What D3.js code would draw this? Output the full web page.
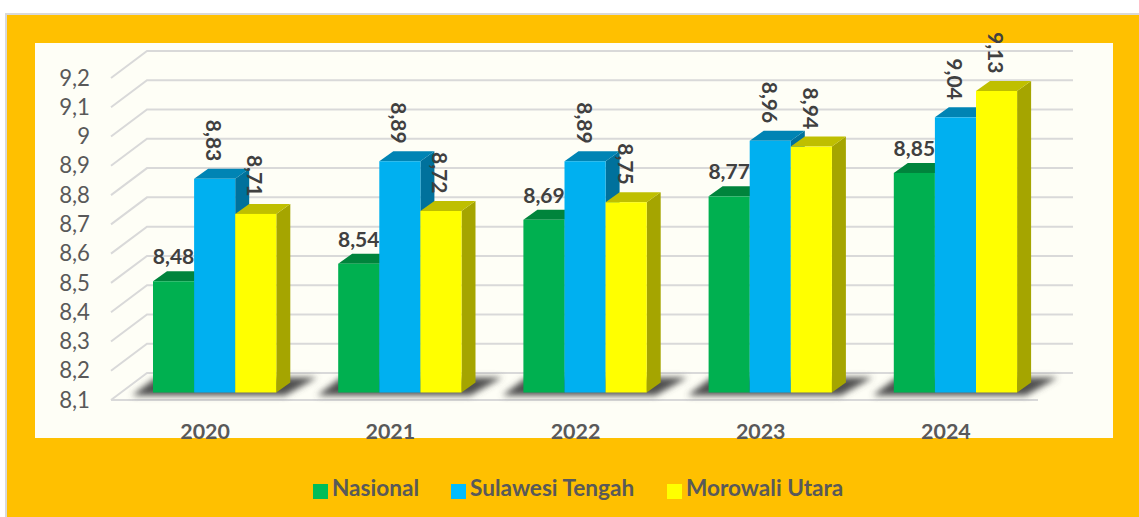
<!DOCTYPE html>
<html>
<head>
<meta charset="utf-8">
<script src="https://cdn.jsdelivr.net/npm/d3@7"></script>
<style>
  html, body { margin: 0; padding: 0; background: #fff; overflow: hidden; }
  text { font-family: Lato, "Open Sans", sans-serif; }
</style>
</head>
<body>
<div id="chart"></div>
<script>
var categories = ["2020", "2021", "2022", "2023", "2024"];
var nasional = [8.48, 8.54, 8.69, 8.77, 8.85];
var sulawesiTengah = [8.83, 8.89, 8.89, 8.96, 9.04];
var morowaliUtara = [8.71, 8.72, 8.75, 8.94, 9.13];
var yTicks = [8.1, 8.2, 8.3, 8.4, 8.5, 8.6, 8.7, 8.8, 8.9, 9, 9.1, 9.2];
var seriesNames = ["Nasional", "Sulawesi Tengah", "Morowali Utara"];

var svgWidth = 1139;
var svgHeight = 517;

var svg = d3.select("#chart")
  .append("svg")
  .attr("width", svgWidth)
  .attr("height", svgHeight)
  .style("display", "block");

// blur for the floor shadow
svg.append("defs").append("filter")
  .attr("id", "floorBlur")
  .attr("x", "-10%").attr("y", "-50%")
  .attr("width", "120%").attr("height", "200%")
  .append("feGaussianBlur")
  .attr("stdDeviation", 3.4);

// frame and plot background
svg.append("rect")
  .attr("x", 6).attr("y", 14)
  .attr("width", svgWidth).attr("height", svgHeight)
  .attr("fill", "#FFC000")
  .attr("stroke", "#D9D9D9")
  .attr("stroke-width", 2);

svg.append("rect")
  .attr("x", 35).attr("y", 43)
  .attr("width", 1078).attr("height", 395)
  .attr("fill", "#FEFEF6");

// scales: front plane of the fake 3d box
var x = d3.scaleBand().domain(categories).range([111, 1037]);
var y = d3.scaleLinear().domain([8.1, 9.2]).range([400, 78]);

var wallDx = 36, wallDy = -27;   // floor depth
var barDx = 14, barDy = -10;     // bar depth
var planeDy = -7.5;              // bars stand a little back from the front edge
var barWidth = 41.1;
var groupOffset = 42;
var labelGap = 18;

// grid lines, side wall + back wall
var grid = svg.append("g");
yTicks.forEach(function (t) {
  grid.append("polyline")
    .attr("points", [
      [x.range()[0], y(t)],
      [x.range()[0] + wallDx, y(t) + wallDy],
      [x.range()[1] + wallDx, y(t) + wallDy]
    ].join(" "))
    .attr("fill", "none")
    .attr("stroke", "#D9D9D9")
    .attr("stroke-width", 2);
});
grid.append("line")
  .attr("x1", x.range()[0]).attr("x2", x.range()[1] + 1)
  .attr("y1", y(8.1)).attr("y2", y(8.1))
  .attr("stroke", "#D9D9D9")
  .attr("stroke-width", 2);

// y axis labels only
var leftAxis = d3.axisLeft(y)
  .tickValues(yTicks)
  .tickSize(0)
  .tickPadding(0)
  .tickFormat(function (d) { return String(d).replace(".", ","); });

var yAxis = svg.append("g")
  .attr("transform", "translate(90, 0)")
  .call(leftAxis);
yAxis.select(".domain").remove();
yAxis.selectAll("text")
  .attr("font-size", 22.2)
  .attr("fill", "#595959")
  .style("font-family", "Lato, sans-serif");

// category labels
svg.append("g").selectAll("text")
  .data(categories)
  .enter()
  .append("text")
  .attr("x", d => x(d) + x.bandwidth() / 2 + 1.5)
  .attr("y", 438.5)
  .attr("text-anchor", "middle")
  .attr("font-size", 21.4)
  .attr("font-weight", "bold")
  .attr("fill", "#595959")
  .text(d => d);

// floor shadows
svg.append("g").selectAll("polygon")
  .data(categories)
  .enter()
  .append("polygon")
  .attr("points", function (d) {
    var x0 = x(d) + groupOffset;
    var b = y(8.1) + planeDy;
    return [
      [x0 - 21, b + 3],
      [x0 + 3, b - 15],
      [x0 + 164, b - 15],
      [x0 + 132, b + 3]
    ].join(" ");
  })
  .attr("fill", "#505050")
  .attr("filter", "url(#floorBlur)");

var styles = [
  { values: nasional, front: "#00B050", top: "#00843C", side: "#00703A", swatch: "#00BD58" },
  { values: sulawesiTengah, front: "#00B0F0", top: "#0084B4", side: "#00719C", swatch: "#00BCFF" },
  { values: morowaliUtara, front: "#FFFF00", top: "#BFBF00", side: "#A5A500", swatch: "#FFFF00" }
];

// bars, series by series inside each category
var bars = svg.append("g");
categories.forEach(function (cat, i) {
  styles.forEach(function (s, j) {
    var left = x(cat) + groupOffset + j * barWidth;
    var right = left + barWidth;
    var top = y(s.values[i]) + planeDy;
    var base = y(8.1) + planeDy;

    bars.append("polygon")
      .attr("points", [[right, top], [right + barDx, top + barDy], [right + barDx, base + barDy], [right, base]].join(" "))
      .attr("fill", s.side);
    bars.append("polygon")
      .attr("points", [[left, top], [left + barDx, top + barDy], [right + barDx, top + barDy], [right, top]].join(" "))
      .attr("fill", s.top);
    bars.append("rect")
      .attr("x", left)
      .attr("y", top)
      .attr("width", barWidth)
      .attr("height", base - top)
      .attr("fill", s.front);
  });
});

// value labels, nasional flat, the other two turned
var labels = svg.append("g");
categories.forEach(function (cat, i) {
  styles.forEach(function (s, j) {
    var cx = x(cat) + groupOffset + (j + 0.5) * barWidth;
    var yEnd = y(s.values[i]) + planeDy - labelGap;
    var txt = String(s.values[i]).replace(".", ",");
    var label = labels.append("text")
      .attr("font-size", 21)
      .attr("font-weight", "bold")
      .attr("fill", "#404040")
      .text(txt);
    if (j === 0) {
      label.attr("x", cx).attr("y", yEnd + 1).attr("text-anchor", "middle");
    } else {
      label.attr("text-anchor", "start")
        .attr("dominant-baseline", "central")
        .attr("transform", `translate(${cx}, ${yEnd - 41}) rotate(90)`);
    }
  });
});

// legend
var legendSwatchX = [313, 451, 667];
var legend = svg.append("g");
seriesNames.forEach(function (name, j) {
  legend.append("rect")
    .attr("x", legendSwatchX[j])
    .attr("y", 484)
    .attr("width", 15)
    .attr("height", 15)
    .attr("fill", styles[j].swatch);
  legend.append("text")
    .attr("x", legendSwatchX[j] + 19)
    .attr("y", 496)
    .attr("font-size", 22.6)
    .attr("font-weight", "bold")
    .attr("fill", "#595959")
    .text(name);
});
</script>
</body>
</html>
